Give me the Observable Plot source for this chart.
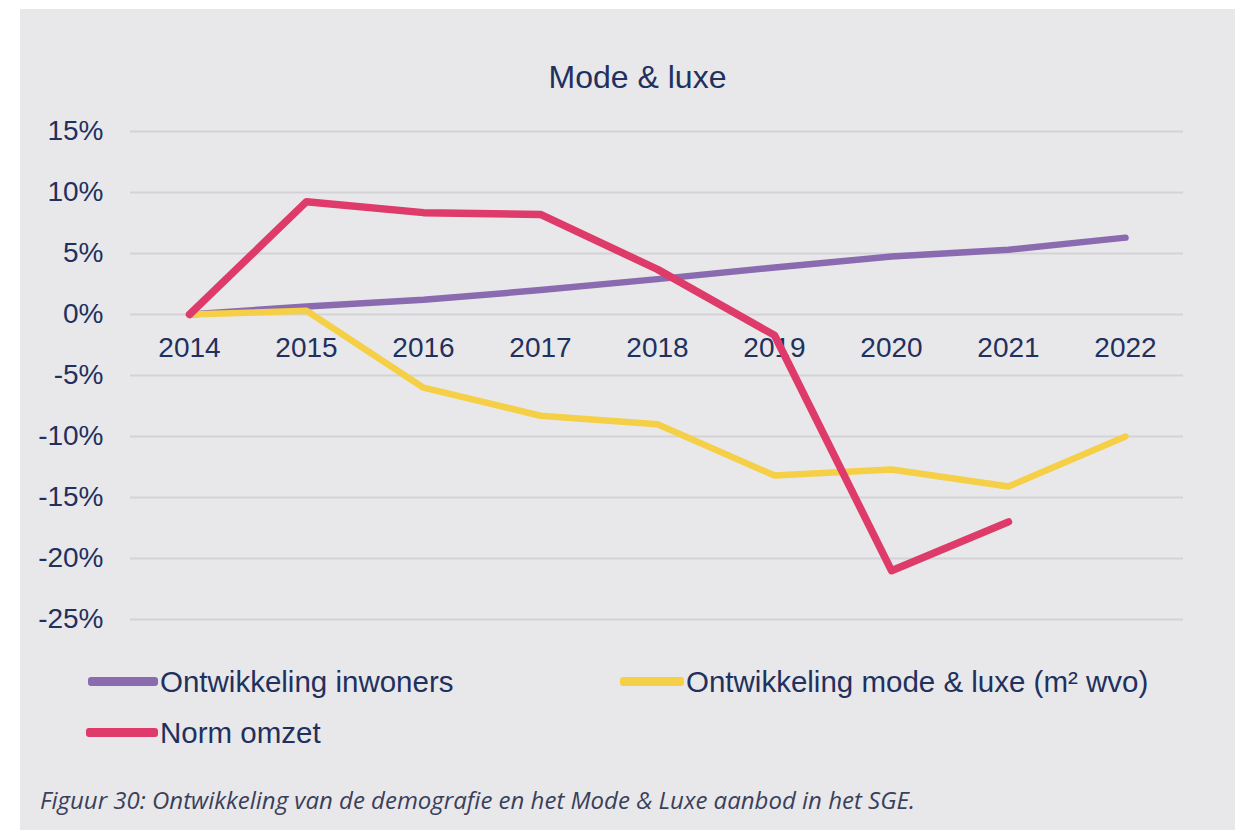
<!DOCTYPE html>
<html>
<head>
<meta charset="utf-8">
<script src="https://cdn.jsdelivr.net/npm/d3@7"></script>
<script src="https://cdn.jsdelivr.net/npm/@observablehq/plot@0.6"></script>
<style>
  html, body { margin: 0; padding: 0; background: #ffffff; width: 1246px; height: 830px; overflow: hidden; }
  #panel { position: absolute; left: 20px; top: 9px; width: 1215px; height: 821px; background: #e8e8ea; }
  .txt { position: absolute; font-family: "Liberation Sans", Arial, sans-serif; color: #22305e; white-space: nowrap; line-height: 1; }
  .sw { position: absolute; height: 9px; border-radius: 3px; }
  #chart { position: absolute; left: 20px; top: 100px; }
  #caption { position: absolute; left: 40px; top: 786px; font-family: "Open Sans", sans-serif; font-style: italic; font-size: 24px; color: #3a3f5c; white-space: nowrap; line-height: 1.2; }
</style>
</head>
<body>
<div id="panel"></div>
<div class="txt" id="title" style="left:0; width:1275px; text-align:center; top:61px; font-size:32px;">Mode &amp; luxe</div>
<div id="chart"></div>
<div id="legend"></div>
<div id="caption">Figuur 30: Ontwikkeling van de demografie en het Mode &amp; Luxe aanbod in het SGE.</div>
<script>
const years = ["2014", "2015", "2016", "2017", "2018", "2019", "2020", "2021", "2022"];
const inwoners = [0, 0.65, 1.2, 2.0, 2.9, 3.85, 4.75, 5.3, 6.3];
const modeLuxe = [0, 0.3, -6.0, -8.3, -9.0, -13.2, -12.7, -14.1, -10.0];
const normOmzet = [0, 9.25, 8.35, 8.2, 3.7, -1.7, -21.0, -17.0, null];
const yTicks = [-25, -20, -15, -10, -5, 0, 5, 10, 15];
const seriesNames = ["Ontwikkeling inwoners", "Ontwikkeling mode & luxe (m² wvo)", "Norm omzet"];
const seriesColors = ["#8a6bb0", "#f5cf45", "#de3a6a"];

const textColor = "#22305e";

function toRows(values) {
  return years.map((y, i) => ({year: y, value: values[i]})).filter(d => d.value != null);
}

const chart = Plot.plot({
  width: 1215,
  height: 540,
  marginTop: 31,
  marginBottom: 21,
  marginLeft: 110,
  marginRight: 52,
  style: {background: "transparent", fontFamily: "'Liberation Sans', Arial, sans-serif", fontSize: "28px", color: textColor},
  x: {type: "point", domain: years, padding: 0.5, axis: null},
  y: {domain: [-25, 15], axis: null},
  marks: [
    Plot.gridY(yTicks, {stroke: "#d3d3d7", strokeOpacity: 1, strokeWidth: 2}),
    Plot.axisY(yTicks, {tickSize: 0, tickPadding: 27, tickFormat: d => d + "%", fill: textColor, fontSize: 28, label: null}),
    Plot.text(years, {x: d => d, y: () => 0, dy: 34, fill: textColor, fontSize: 28}),
    Plot.line(toRows(inwoners), {x: "year", y: "value", stroke: seriesColors[0], strokeWidth: 6.5, strokeLinecap: "round", strokeLinejoin: "round"}),
    Plot.line(toRows(modeLuxe), {x: "year", y: "value", stroke: seriesColors[1], strokeWidth: 6.5, strokeLinecap: "round", strokeLinejoin: "round"}),
    Plot.line(toRows(normOmzet), {x: "year", y: "value", stroke: seriesColors[2], strokeWidth: 7.5, strokeLinecap: "round", strokeLinejoin: "round"})
  ]
});
document.getElementById("chart").appendChild(chart);

// legend
const legendLayout = [
  {sx: 88, sw: 70, tx: 160, cy: 681},
  {sx: 620, sw: 64, tx: 686, cy: 681},
  {sx: 86, sw: 72, tx: 160, cy: 732}
];
const legend = document.getElementById("legend");
seriesNames.forEach((name, i) => {
  const L = legendLayout[i];
  const sw = document.createElement("div");
  sw.className = "sw";
  sw.style.left = L.sx + "px";
  sw.style.width = L.sw + "px";
  sw.style.top = (L.cy - 4.5) + "px";
  sw.style.background = seriesColors[i];
  legend.appendChild(sw);
  const t = document.createElement("div");
  t.className = "txt";
  t.style.left = L.tx + "px";
  t.style.top = (L.cy - 14) + "px";
  t.style.fontSize = "29.5px";
  t.textContent = name;
  legend.appendChild(t);
});
</script>
</body>
</html>
